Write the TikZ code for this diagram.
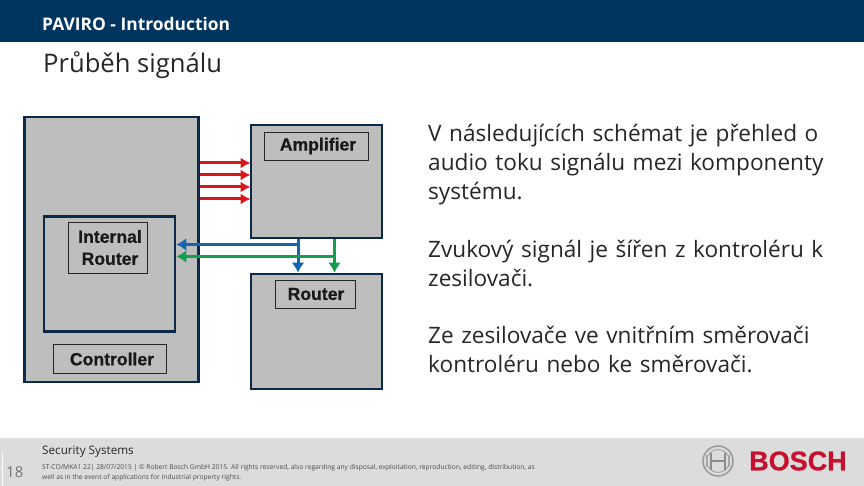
\documentclass[tikz,border=0pt]{standalone}
\usepackage{fontspec}
\setmainfont{Open Sans}
\newfontfamily\lab{Liberation Sans}
\newfontfamily\heavy[FakeBold=0.7]{Liberation Sans Bold}
\usetikzlibrary{arrows.meta}
\definecolor{navy}{HTML}{003560}
\definecolor{boxedge}{HTML}{0B2A4A}
\definecolor{boxfill}{HTML}{BEBEBE}
\definecolor{foot}{HTML}{DCDCDC}
\definecolor{redline}{HTML}{D9161C}
\definecolor{blueline}{HTML}{1466AE}
\definecolor{greenline}{HTML}{12A04F}
\definecolor{boschred}{HTML}{C8102E}
\tikzset{
  bigbox/.style={draw=boxedge,fill=boxfill,line width=2.8pt,inner sep=0pt},
  labbox/.style={draw=black!85,fill=boxfill,line width=0.9pt,inner sep=0pt,font=\heavy\fontsize{17.6}{22}\selectfont,text=black!90,align=center},
  para/.style={anchor=north west,inner sep=0pt,align=left,text width=430pt,font=\fontsize{22.6}{29}\selectfont,text=black!85},
  redarrow/.style={draw=redline,line width=3pt,-{Latex[length=10pt,width=11pt]},shorten >=-1pt},
  bluearrow/.style={draw=blueline,line width=3pt,-{Latex[length=10pt,width=13pt]}},
  greenarrow/.style={draw=greenline,line width=3pt,-{Latex[length=10pt,width=13pt]}},
}
\begin{document}
\begin{tikzpicture}[x=1pt,y=-1pt]
\useasboundingbox (0,0) rectangle (864,486);
\fill[navy] (0,0) rectangle (864,42.5);
\fill[foot] (0,438) rectangle (864,486);
\draw[white!90!foot,line width=0.7pt] (2,452) -- (2,486);
\node[anchor=west,inner sep=0pt,text=white,font=\fontsize{17.4}{20}\selectfont\bfseries] (title) at (42,23.5) {PAVIRO - Introduction};
\node[anchor=west,inner sep=0pt,text=black!85,font=\fontsize{25.6}{28}\selectfont] (sub) at (43,65.5) {Průběh signálu};
% boxes
\node[bigbox,minimum width=174pt,minimum height=265pt] (ctrl) at (111.5,249.5) {};
\node[bigbox,minimum width=131pt,minimum height=115pt] (intr) at (109.5,274) {};
\node[bigbox,minimum width=131pt,minimum height=113pt] (amp) at (316.5,181.5) {};
\node[bigbox,minimum width=131pt,minimum height=115pt] (rtr) at (316.5,331.5) {};
\node[labbox,minimum width=104pt,minimum height=28pt] (ampl) at (316,146) {\hspace*{4pt}Amplifier};
\node[labbox,minimum width=79.5pt,minimum height=51pt] (intl) at (108,247.5) {\hspace*{4pt}Internal\\\hspace*{4pt}Router};
\node[labbox,minimum width=80pt,minimum height=28pt] (rtrl) at (315,294) {\hspace*{2pt}Router};
\node[labbox,minimum width=113pt,minimum height=29pt] (ctll) at (110,359) {\hspace*{4pt}Controller};
% red
\foreach \yy in {163,175,187,199}
  \draw[redarrow] (ctrl.east |- 0,\yy) -- (amp.west |- 0,\yy);
% blue / green
\coordinate (bj) at (298,244.5);
\coordinate (gj) at (334.5,256.5);
\draw[bluearrow] (amp.south -| bj) -- (rtr.north -| bj);
\draw[bluearrow] (bj) -- (intr.east |- bj);
\draw[greenarrow] (amp.south -| gj) -- (rtr.north -| gj);
\draw[greenarrow] (gj) -- (intr.east |- gj);
% text
\node[para] (t1) at (428,124) {V následujících schémat je přehled o\\audio toku signálu mezi komponenty\\systému.};
\node[para] (t2) at (428,240) {Zvukový signál je šířen z kontroléru k\\zesilovači.};
\node[para] (t3) at (428,325.5) {Ze zesilovače ve vnitřním směrovači\\kontroléru nebo ke směrovači.};
% footer
\node[anchor=west,inner sep=0pt,text=black!85,font=\fontsize{11.7}{14}\selectfont] (sec) at (42,452) {Security Systems};
\node[anchor=west,inner sep=0pt,text=black!55,font=\fontsize{15}{18}\selectfont] (num) at (6,472) {18};
\node[anchor=north west,inner sep=0pt,text=black!70,align=left,font=\fontsize{6.7}{10.5}\selectfont] (legal) at (42,464) {ST-CO/MKA1 22| 28/07/2015 | © Robert Bosch GmbH 2015. All rights reserved, also regarding any disposal, exploitation, reproduction, editing, distribution, as\\well as in the event of applications for industrial property rights.};
% logo
\draw[black!40,line width=1.5pt] (718,461) circle (15pt);
\draw[black!35,line width=1pt] (718,461) circle (11.5pt);
\draw[black!45,line width=1.5pt] (711,452.5) -- (711,469.5) (725,452.5) -- (725,469.5) (711,461) -- (725,461);
\draw[black!35,line width=1.2pt] (707,455) -- (707,467) (729,455) -- (729,467);
\node[anchor=west,inner sep=0pt,text=boschred,font=\heavy\fontsize{27}{30}\selectfont] (logo) at (749,461) {BOSCH};
\end{tikzpicture}
\end{document}
